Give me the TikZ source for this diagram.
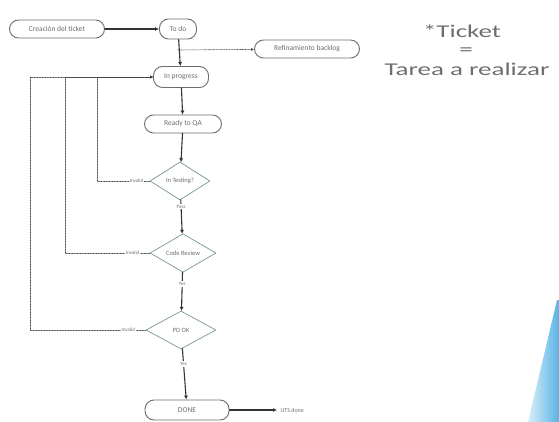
\documentclass[tikz,border=0pt]{standalone}
\usepackage{fontspec}
\setmainfont{Carlito}
\usetikzlibrary{shapes.geometric,arrows.meta}

\definecolor{boxgray}{RGB}{110,110,110}
\definecolor{textgray}{RGB}{110,110,110}
\definecolor{diagteal}{RGB}{120,150,150}
\definecolor{skyblue}{RGB}{70,170,225}

\tikzset{
  stadium/.style={draw=boxgray, line width=0.9pt, rounded corners=9pt, fill=white,
    inner sep=1pt, font=\fontsize{7.5}{8}\selectfont, text=textgray},
  decision/.style={diamond, draw=diagteal, line width=0.7pt, fill=white, inner sep=0pt,
    font=\fontsize{6.5}{7}\selectfont, text=textgray},
  flow/.style={line width=1.1pt, draw=black!80, -{Latex[length=4pt,width=4pt]}},
  backline/.style={line width=0.6pt, densely dotted, draw=black!75, -{Latex[length=3pt,width=3pt]}},
  tag/.style={font=\fontsize{5}{5}\selectfont, text=textgray, fill=white, inner sep=1pt},
  notetext/.style={font=\fontsize{18}{18}\selectfont, text=textgray, xscale=1.5, inner sep=0pt}
}

\begin{document}
\begin{tikzpicture}[x=1pt, y=-1pt, line cap=round, line join=round]

% Frame
\useasboundingbox (0,0) rectangle (559,422);

% Blue corner
\shade[left color=skyblue!20, right color=skyblue!90] (557,300) -- (559,300) -- (559,422) -- (528,422) -- cycle;

% States
\node[stadium, minimum width=95pt, minimum height=18pt] (ticket) at (57,29) {Creación del ticket};
\node[stadium, minimum width=37pt, minimum height=20pt] (todo) at (178,29) {To do};
\node[stadium, minimum width=105pt, minimum height=18pt] (backlog) at (307,49) {Refinamiento backlog};
\node[stadium, minimum width=55pt, minimum height=21pt] (prog) at (181,77) {In progress};
\node[stadium, minimum width=77pt, minimum height=18pt] (ready) at (183,124) {Ready to QA};
\node[stadium, minimum width=84pt, minimum height=20pt] (done) at (187,410) {DONE};

% Decisions
\node[decision, minimum width=60pt, minimum height=38pt] (test) at (180,181) {In Testing?};
\node[decision, minimum width=66pt, minimum height=37pt] (review) at (183,253) {Code Review};
\node[decision, minimum width=70pt, minimum height=38pt] (pook) at (181,330) {PO OK};

% Bends
\coordinate (split) at (178,50);
\coordinate (c1) at (97,181);
\coordinate (c2) at (65,253);
\coordinate (c3) at (30,330);

% Main flow
\draw[flow] (ticket) -- (todo);
\draw[flow] (todo) -- (prog);
\draw[flow] (prog) -- (ready);
\draw[flow] (ready) -- (test);
\draw[flow] (test) -- node[tag, pos=0.2] {Pass} (review);
\draw[flow] (review) -- node[tag, pos=0.3] {Yes} (pook);
\draw[flow] (pook) -- node[tag, pos=0.3] {Yes} (done);

% Side branch
\draw[backline] (split) -- (backlog);

% Loops back
\draw[backline] (test.west) -- node[tag, pos=0.25] {Invalid} (c1) |- (prog.west);
\draw[backline] (review.west) -- node[tag, pos=0.2] {Invalid} (c2) |- (prog.west);
\draw[backline] (pook.west) -- node[tag, pos=0.15] {Invalid} (c3) |- (prog.west);

% Exit
\node[font=\fontsize{6}{6}\selectfont, text=textgray, anchor=west] (uts) at (277,410) {UTS done};
\draw[flow] (done) -- (uts);

% Note
\node[notetext] (note) at (462,31) {*Ticket};
\node[notetext] (eq) at (466,52) {=};
\node[notetext] (task) at (467,69) {Tarea a realizar};

\end{tikzpicture}
\end{document}
